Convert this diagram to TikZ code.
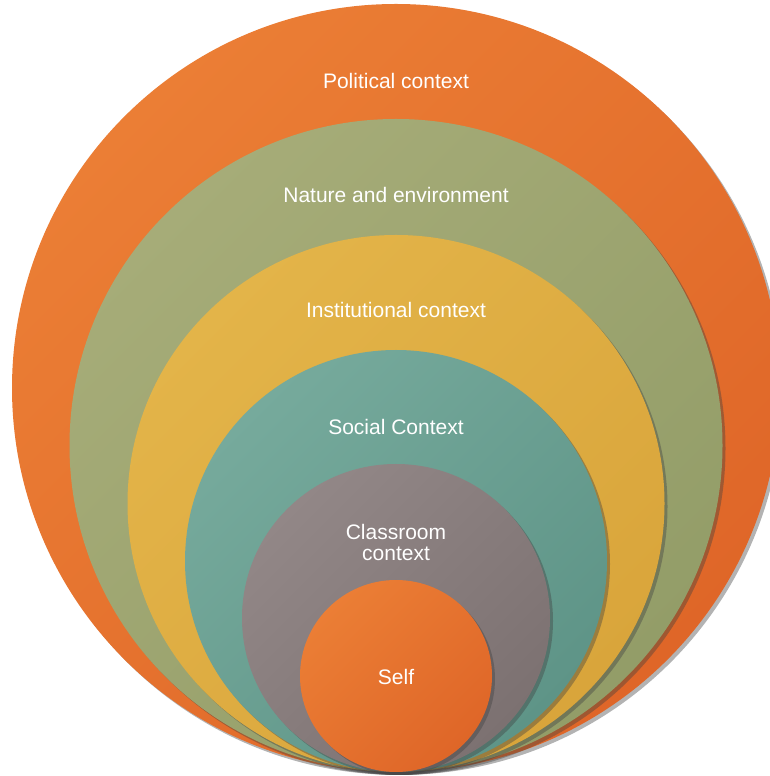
\documentclass[tikz,border=0pt]{standalone}
\usepackage{fontspec}
\setmainfont{Liberation Sans}
\usetikzlibrary{shadows}
\definecolor{orA}{HTML}{EB7E35}
\definecolor{orB}{HTML}{DF6628}
\definecolor{grA}{HTML}{A6AC78}
\definecolor{grB}{HTML}{939D68}
\definecolor{yeA}{HTML}{E3B449}
\definecolor{yeB}{HTML}{D9A53B}
\definecolor{tlA}{HTML}{76AA9C}
\definecolor{tlB}{HTML}{5E9487}
\definecolor{gyA}{HTML}{928787}
\definecolor{gyB}{HTML}{7C7171}
\tikzset{
  ring/.style 2 args={circle, inner sep=0pt, draw=none,
    top color=#1, bottom color=#2, shading angle=45,
    drop shadow={shadow xshift=3pt, shadow yshift=-3pt, opacity=0.4, fill=black!75}},
  lbl/.style={text=white, font=\fontsize{21}{21}\selectfont, align=center, inner sep=0pt}
}
\begin{document}
\begin{tikzpicture}[x=1pt,y=1pt]
\useasboundingbox (0,0) rectangle (770,776);
\clip (0,0) rectangle (770,776);
\node[ring={orA}{orB}, minimum size=768pt] (political) at (396,388) {};
\node[ring={grA}{grB}, minimum size=653pt] (nature) at (396,330.5) {};
\node[ring={yeA}{yeB}, minimum size=537pt] (institutional) at (396,272.5) {};
\node[ring={tlA}{tlB}, minimum size=422pt] (social) at (396,215) {};
\node[ring={gyA}{gyB}, minimum size=308pt] (classroom) at (396,158) {};
\node[ring={orA}{orB}, minimum size=192pt] (self) at (396,100) {};
\node[lbl] (tpolitical) at (396,695) {Political context};
\node[lbl] (tnature) at (396,581) {Nature and environment};
\node[lbl] (tinstitutional) at (396,466) {Institutional context};
\node[lbl] (tsocial) at (396,349) {Social Context};
\node[lbl] (tclassroom) at (396,234) {Classroom\\context};
\node[lbl] (tself) at (396,99) {Self};
\end{tikzpicture}
\end{document}
